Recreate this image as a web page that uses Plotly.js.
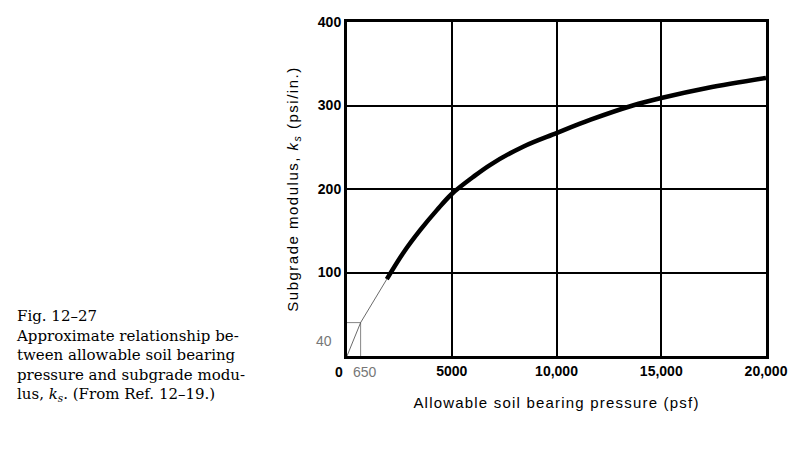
<!DOCTYPE html>
<html>
<head>
<meta charset="utf-8">
<script src="https://cdn.plot.ly/plotly-3.0.1.min.js"></script>
<style>
  html, body { margin: 0; padding: 0; background: #fff; }
  #graph { width: 800px; height: 453px; }
  .xtitle { letter-spacing: 1.2px; }
  .ytitle { letter-spacing: 1.5px; }
</style>
</head>
<body>
<div id="graph"></div>
<script>
// curve (psf, psi/in.)
const pressure = [1900, 2700, 3500, 4300, 5000, 6000, 6840, 8430, 10000, 11630, 13640, 15000, 17190, 20000];
const modulus = [92, 124, 151, 175, 194, 214, 229, 251, 267, 283, 300, 309, 321, 333];

// thin extension down to the origin
const leadPressure = [0, 650, 1900];
const leadModulus = [0, 40, 92];

// small reference box at 650 psf / 40 psi/in.
const boxPressure = [0, 650, 650];
const boxModulus = [40, 40, 0];

const xTicks = [5000, 10000, 15000, 20000];
const xTickText = ['5000', '10,000', '15,000', '20,000'];
const yTicks = [100, 200, 300, 400];
const yTickText = ['100', '200', '300', '400'];

const caption = ['Fig. 12–27', 'Approximate relationship be-', 'tween allowable soil bearing',
  'pressure and subgrade modu-', 'lus, <i>k<sub>s</sub></i>. (From Ref. 12–19.)'];

function drawChart() {
  const curve = {
    x: pressure, y: modulus,
    type: 'scatter', mode: 'lines',
    line: { color: '#000', width: 4.5, shape: 'spline', smoothing: 1 },
    hoverinfo: 'x+y'
  };
  const lead = {
    x: leadPressure, y: leadModulus,
    type: 'scatter', mode: 'lines',
    line: { color: '#444', width: 0.8 },
    hoverinfo: 'skip'
  };
  const box = {
    x: boxPressure, y: boxModulus,
    type: 'scatter', mode: 'lines',
    line: { color: '#666', width: 0.8 },
    hoverinfo: 'skip'
  };

  const sans = 'Liberation Sans, Arial, sans-serif';
  const tickFont = { family: sans, size: 14, color: '#000' };
  const greyFont = { family: sans, size: 14, color: '#777' };

  const W = 800, H = 453;
  const m = { l: 347, r: 34, t: 22, b: 97 };
  // pixel -> paper coords for the caption outside the plot area
  const px = (x) => (x - m.l) / (W - m.l - m.r);
  const py = (y) => (H - m.b - y) / (H - m.t - m.b);

  const annotations = [
    { x: 0, y: 0, xref: 'x', yref: 'y', text: '<b>0</b>', showarrow: false,
      xanchor: 'center', yanchor: 'top', xshift: -8, yshift: -6, font: tickFont },
    { x: 650, y: 0, xref: 'x', yref: 'y', text: '650', showarrow: false,
      xanchor: 'center', yanchor: 'top', xshift: 4, yshift: -6, font: greyFont },
    { x: 0, y: 40, xref: 'x', yref: 'y', text: '40', showarrow: false,
      xanchor: 'right', yanchor: 'top', xshift: -13, yshift: -8, font: greyFont },
    { x: px(14), y: py(305), xref: 'paper', yref: 'paper', text: caption.join('<br>'),
      showarrow: false, align: 'left', xanchor: 'left', yanchor: 'top',
      font: { family: 'DejaVu Serif, Liberation Serif, serif', size: 15, color: '#000' } }
  ];

  const layout = {
    width: W, height: H,
    margin: m,
    showlegend: false,
    paper_bgcolor: '#fff',
    plot_bgcolor: '#fff',
    xaxis: {
      range: [0, 20000],
      tickvals: xTicks,
      ticktext: xTickText.map(t => '<b>' + t + '</b>'),
      tickfont: tickFont,
      ticks: '',
      showgrid: true, gridcolor: '#000', gridwidth: 2,
      showline: true, linecolor: '#000', linewidth: 3, mirror: true,
      zeroline: false,
      title: {
        text: 'Allowable soil bearing pressure (psf)',
        font: { family: sans, size: 15, color: '#000' },
        standoff: 20
      }
    },
    yaxis: {
      range: [0, 400],
      tickvals: yTicks,
      ticktext: yTickText.map(t => '<b>' + t + '</b>'),
      tickfont: tickFont,
      ticks: '',
      showgrid: true, gridcolor: '#000', gridwidth: 2,
      showline: true, linecolor: '#000', linewidth: 3, mirror: true,
      zeroline: false,
      title: {
        text: 'Subgrade modulus, <i>k<sub>s</sub></i> (psi/in.)',
        font: { family: sans, size: 15, color: '#000' },
        standoff: 16
      }
    },
    annotations: annotations
  };

  Plotly.newPlot('graph', [box, lead, curve], layout, { displayModeBar: false, staticPlot: true });
}

drawChart();
</script>
</body>
</html>
